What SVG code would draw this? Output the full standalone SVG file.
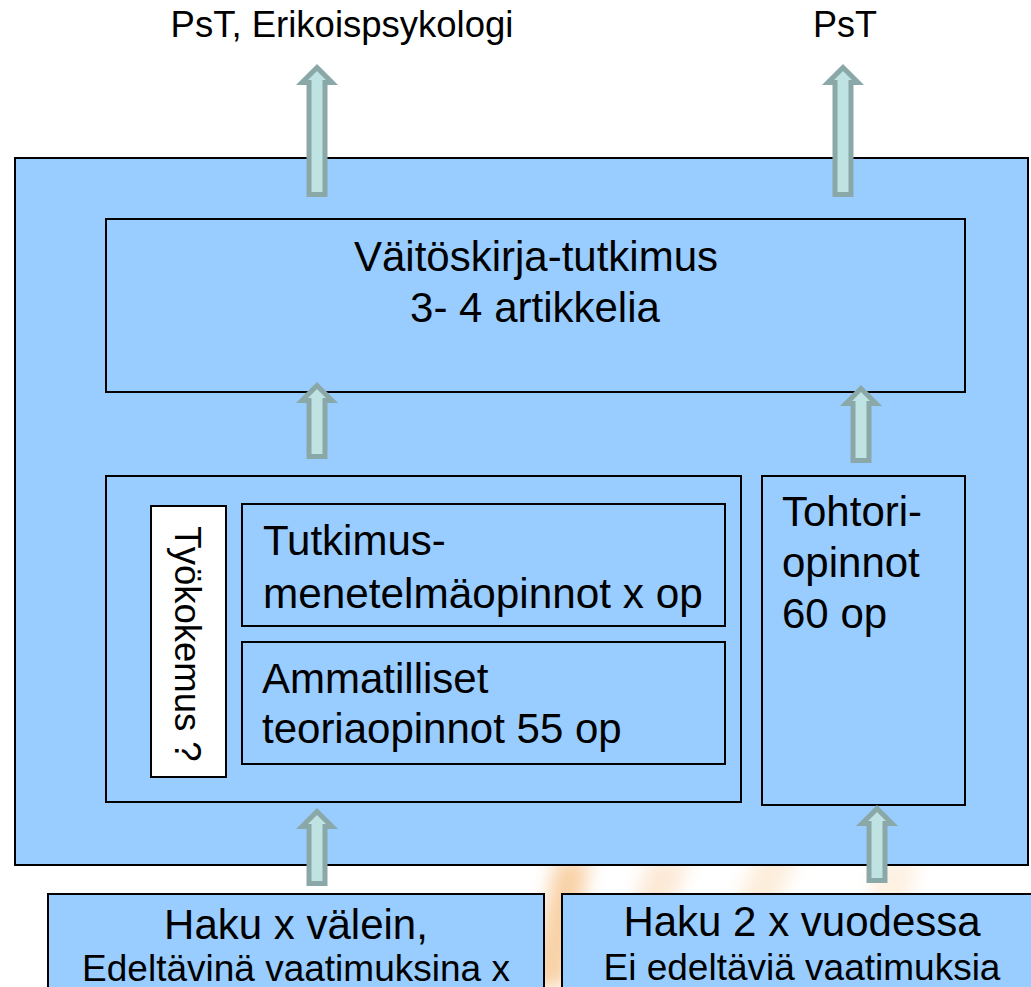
<svg xmlns="http://www.w3.org/2000/svg" width="1031" height="987" viewBox="0 0 1031 987">
<style>
.box{fill:#99CCFF;stroke:#000;stroke-width:2}
.wbox{fill:#FFFFFF;stroke:#000;stroke-width:2}
.t{font-family:"Liberation Sans",Arial,sans-serif;fill:#000}
.arr{fill:#BFE3E3;stroke:#8BA8A8;stroke-width:5;stroke-linejoin:miter}
</style>
<defs>
<filter id="blur" x="-50%" y="-50%" width="200%" height="200%"><feGaussianBlur stdDeviation="9"/></filter>
</defs>
<rect width="1031" height="987" fill="#FFFFFF"/>
<g id="watermark" filter="url(#blur)" opacity="0.7">
<path d="M528 987 L556 860 L590 860 L566 987 Z" fill="#F6BE80"/>
<path d="M600 987 L650 860 L690 860 L640 987 Z" fill="#FBE0C4"/>
<path d="M700 987 L760 850 L800 850 L740 987 Z" fill="#FCE6CC"/>
<path d="M840 987 L880 860 L920 860 L880 987 Z" fill="#FDEBD6"/>
</g>
<g id="outer"><rect class="box" x="15" y="158" width="1013" height="707"/></g>
<g id="vaitoskirja">
<rect class="box" x="106" y="219" width="859" height="173"/>
<text class="t" x="536" y="271" font-size="42" text-anchor="middle">Väitöskirja-tutkimus</text>
<text class="t" x="535" y="322" font-size="42" text-anchor="middle">3- 4 artikkelia</text>
</g>
<g id="leftgroup"><rect class="box" x="106" y="476" width="635" height="326"/></g>
<g id="tyokokemus">
<rect class="wbox" x="151" y="506" width="75" height="271"/>
<text class="t" font-size="36.5" text-anchor="middle" transform="translate(175,644) rotate(90)">Työkokemus ?</text>
</g>
<g id="tutkimus">
<rect class="box" x="242" y="504" width="483" height="122"/>
<text class="t" x="263" y="555" font-size="42">Tutkimus-</text>
<text class="t" x="263" y="608" font-size="42.3">menetelmäopinnot x op</text>
</g>
<g id="ammatilliset">
<rect class="box" x="242" y="642" width="483" height="122"/>
<text class="t" x="262" y="693" font-size="42">Ammatilliset</text>
<text class="t" x="262" y="743" font-size="42">teoriaopinnot 55 op</text>
</g>
<g id="tohtori">
<rect class="box" x="762" y="476" width="203" height="329"/>
<text class="t" x="782" y="526" font-size="42">Tohtori-</text>
<text class="t" x="782" y="577" font-size="42">opinnot</text>
<text class="t" x="782" y="628" font-size="42">60 op</text>
</g>
<g id="haku1">
<rect class="box" x="48" y="894" width="496" height="110"/>
<text class="t" x="296" y="939" font-size="42" text-anchor="middle">Haku x välein,</text>
<text class="t" x="296" y="981" font-size="37" text-anchor="middle">Edeltävinä vaatimuksina x</text>
</g>
<g id="haku2">
<rect class="box" x="562" y="894" width="490" height="110"/>
<text class="t" x="802" y="936" font-size="42" text-anchor="middle">Haku 2 x vuodessa</text>
<text class="t" x="802" y="980" font-size="37" text-anchor="middle">Ei edeltäviä vaatimuksia</text>
</g>
<g id="labels">
<text class="t" x="342" y="37" font-size="36.5" text-anchor="middle">PsT, Erikoispsykologi</text>
<text class="t" x="845" y="37" font-size="36" text-anchor="middle">PsT</text>
</g>
<g id="connectors">
<polygon class="arr" points="317,67.5 332,82.5 325,82.5 325,194.5 309,194.5 309,82.5 302,82.5"/>
<polygon class="arr" points="843,67.5 858,82.5 851,82.5 851,194.5 835,194.5 835,82.5 828,82.5"/>
<polygon class="arr" points="317,385.5 332,400.5 325,400.5 325,456.5 309,456.5 309,400.5 302,400.5"/>
<polygon class="arr" points="861,388.5 876,403.5 869,403.5 869,460.5 853,460.5 853,403.5 846,403.5"/>
<polygon class="arr" points="317,811.5 332,826.5 325,826.5 325,883.5 309,883.5 309,826.5 302,826.5"/>
<polygon class="arr" points="877,808.5 892,823.5 885,823.5 885,880.5 869,880.5 869,823.5 862,823.5"/>
</g>
</svg>
